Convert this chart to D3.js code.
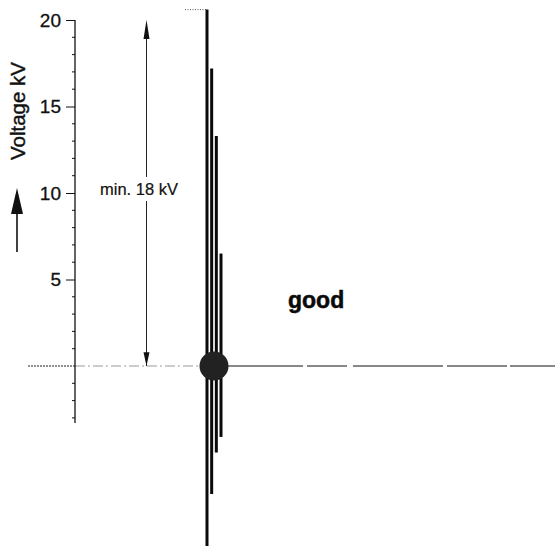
<!DOCTYPE html>
<html><head><meta charset="utf-8">
<script src="https://cdn.jsdelivr.net/npm/d3@7"></script>
<style>html,body{margin:0;padding:0;background:#fff;}svg{display:block;font-family:"Liberation Sans",Arial,sans-serif;}</style>
</head><body>
<script>
// Data
const tickValues = [5, 10, 15, 20];
const tickLabels = ["5", "10", "15", "20"];
const minorTicks = [1,2,3,4,6,7,8,9,11,12,13,14,16,17,18,19,-1,-2,-3];
const traceIds = ["t1", "t2", "t3", "t4"];
const traceTops = [20.6, 17.2, 13.3, 6.5];      // kV
const traceBottoms = [-10.4, -7.4, -5.0, -4.1]; // kV
const minVoltage = 18;
const axisLabel = "Voltage kV";
const minLabel = "min. 18 kV";
const verdict = "good";

const W = 555, H = 547;
const svg = d3.select("body").append("svg").attr("width", W).attr("height", H);

const y = d3.scaleLinear().domain([0, 20]).range([366, 20]);
const xAxisPos = 75;
const xTrace = d3.scalePoint().domain(traceIds).range([207, 221]);

// baseline
svg.append("line").attr("x1", 28).attr("x2", 75).attr("y1", y(0)).attr("y2", y(0))
  .attr("stroke", "#222").attr("stroke-width", 1).attr("stroke-dasharray", "2,1");
svg.append("line").attr("x1", 75).attr("x2", 200).attr("y1", y(0)).attr("y2", y(0))
  .attr("stroke", "#999").attr("stroke-width", 1).attr("stroke-dasharray", "10,3,2,3");
svg.append("line").attr("x1", 228).attr("x2", 555).attr("y1", y(0)).attr("y2", y(0))
  .attr("stroke", "#111").attr("stroke-width", 1.2).attr("stroke-dasharray", "75,4,40,6,90,4,60,3");

// y axis
const axis = d3.axisLeft(y).tickValues(tickValues).tickFormat((d, i) => tickLabels[i])
  .tickSize(9).tickPadding(5);
const gA = svg.append("g").attr("transform", `translate(${xAxisPos},0)`).call(axis);
gA.select(".domain").remove();
gA.selectAll("line").attr("stroke", "#111").attr("stroke-width", 1);
gA.selectAll("text").attr("font-size", 19).attr("fill", "#111")
  .attr("stroke", "#111").attr("stroke-width", 0.3)
  .attr("font-family", "'Liberation Sans',Arial,sans-serif");
svg.append("line").attr("x1", xAxisPos).attr("x2", xAxisPos).attr("y1", y(20)).attr("y2", y(-3.3))
  .attr("stroke", "#111").attr("stroke-width", 1.3);
svg.selectAll(".minor").data(minorTicks).enter().append("line")
  .attr("x1", xAxisPos - 3).attr("x2", xAxisPos).attr("y1", d => y(d)).attr("y2", d => y(d))
  .attr("stroke", "#111").attr("stroke-width", 1);

// axis title + arrow
svg.append("text").attr("transform", `translate(25,${111}) rotate(-90)`)
  .attr("text-anchor", "middle").attr("font-size", 20.5).attr("fill", "#111")
  .attr("stroke", "#111").attr("stroke-width", 0.4).text(axisLabel);
svg.append("line").attr("x1", 17).attr("x2", 17).attr("y1", 252).attr("y2", 200)
  .attr("stroke", "#111").attr("stroke-width", 1.6);
svg.append("path").attr("d", "M17,188 L11,214 L23,214 Z").attr("fill", "#111");

// dotted top marker
svg.append("line").attr("x1", 185).attr("x2", 206).attr("y1", y(traceTops[0])).attr("y2", y(traceTops[0]))
  .attr("stroke", "#555").attr("stroke-width", 1).attr("stroke-dasharray", "1,1.5");

// min voltage double arrow
const ax = 146.5;
svg.append("line").attr("x1", ax).attr("x2", ax).attr("y1", y(minVoltage + 1.5)).attr("y2", y(0))
  .attr("stroke", "#222").attr("stroke-width", 1);
svg.append("path").attr("d", `M${ax},${y(minVoltage + 2)} L${ax - 3},${y(minVoltage + 0.9)} L${ax + 3},${y(minVoltage + 0.9)} Z`).attr("fill", "#111");
svg.append("path").attr("d", `M${ax},${y(0)} L${ax - 3},${y(0.8)} L${ax + 3},${y(0.8)} Z`).attr("fill", "#111");
// white box behind label
svg.append("rect").attr("x", 96).attr("y", 177).attr("width", 88).attr("height", 24).attr("fill", "#fff");
svg.append("text").attr("x", 100).attr("y", 195).attr("font-size", 16.5).attr("fill", "#111")
  .attr("stroke", "#111").attr("stroke-width", 0.2).text(minLabel);

// traces
svg.selectAll(".trace").data(traceIds).enter().append("line")
  .attr("x1", d => xTrace(d)).attr("x2", d => xTrace(d))
  .attr("y1", (d, i) => y(traceTops[i])).attr("y2", (d, i) => y(traceBottoms[i]))
  .attr("stroke", "#0a0a0a").attr("stroke-width", 3);

// spark gap dot
svg.append("circle").attr("cx", 214).attr("cy", y(0)).attr("r", 14.5).attr("fill", "#222");

// verdict
svg.append("text").attr("x", 288).attr("y", 308).attr("font-size", 23).attr("font-weight", "bold")
  .attr("fill", "#0a0a0a").attr("stroke", "#0a0a0a").attr("stroke-width", 0.5).text(verdict);
</script>
</body></html>
